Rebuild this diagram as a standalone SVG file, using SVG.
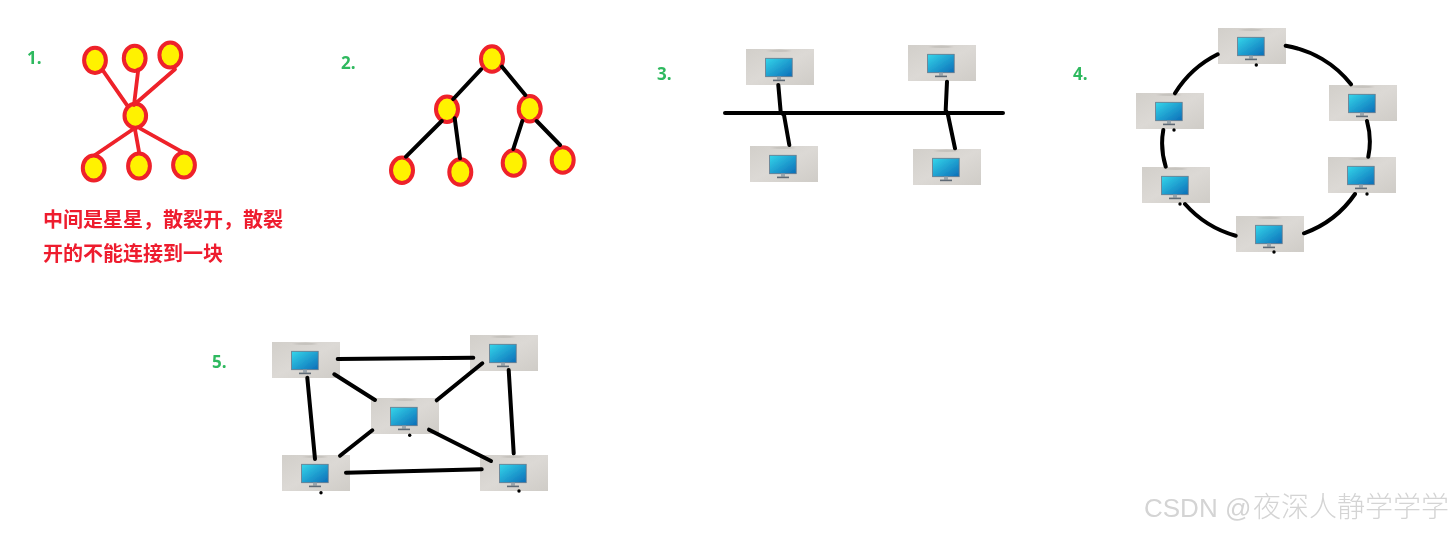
<svg xmlns="http://www.w3.org/2000/svg" width="1455" height="533" viewBox="0 0 1455 533">
<style>
.num{font-family:"Open Sans","Liberation Sans",sans-serif;font-weight:700;font-size:17px;fill:#2fb95e}
.red{font-family:"Noto Sans CJK SC",sans-serif;font-weight:700;font-size:20px;fill:#ee1c2e}
.wm{font-family:"Liberation Sans","Noto Sans CJK SC",sans-serif;font-size:26px;fill:#d4d4d4}
.wc{font-family:"Noto Sans CJK SC",sans-serif;font-weight:300;font-size:28px;fill:#d4d4d4}
.rl{stroke:#ee2029;stroke-width:3.8;fill:none;stroke-linecap:round}
.re{stroke:#ee2029;stroke-width:4;fill:#fff200}
.bl{stroke:#000;stroke-width:4;fill:none;stroke-linecap:round}
.dot{fill:#000}
</style>
<defs>
<linearGradient id="scr" x1="0" y1="0" x2="1" y2="1"><stop offset="0" stop-color="#35d6ea"/><stop offset="1" stop-color="#0b6db8"/></linearGradient>
<linearGradient id="bx" x1="0" y1="0" x2="1" y2="1"><stop offset="0" stop-color="#d2cfca"/><stop offset="0.5" stop-color="#dcd9d5"/><stop offset="1" stop-color="#cfccc7"/></linearGradient>
<filter id="soft" x="0" y="0" width="1" height="1" filterUnits="objectBoundingBox"><feGaussianBlur stdDeviation="0.45"/></filter>
<g id="pc">
<rect width="68" height="36" fill="url(#bx)"/>
<path d="M20 2 Q34 -1 46 2 Q34 4 20 2Z" fill="#c6c3be"/>
<rect x="19.6" y="9.3" width="26.6" height="18.4" fill="url(#scr)" stroke="#66788a" stroke-width="0.8"/>
<rect x="31" y="27.7" width="4" height="3" fill="#9aa5ad"/>
<rect x="27" y="30.6" width="12" height="1.6" fill="#5f6b75"/>
</g>
</defs>
<rect width="1455" height="533" fill="#fff"/>
<g filter="url(#soft)">
<g id="star-center"><ellipse class="re" cx="135.3" cy="115.7" rx="10.8" ry="12"/></g>
<g id="star-1"><ellipse class="re" cx="95" cy="60.3" rx="10.9" ry="12.6"/></g>
<g id="star-2"><ellipse class="re" cx="134.7" cy="58.3" rx="10.9" ry="12.6"/></g>
<g id="star-3"><ellipse class="re" cx="170.3" cy="55" rx="10.9" ry="12.6"/></g>
<g id="star-4"><ellipse class="re" cx="93.7" cy="168" rx="10.9" ry="12.6"/></g>
<g id="star-5"><ellipse class="re" cx="139" cy="166" rx="10.9" ry="12.6"/></g>
<g id="star-6"><ellipse class="re" cx="184" cy="165" rx="10.9" ry="12.6"/></g>
<g id="tree-1"><ellipse class="re" cx="492" cy="59" rx="11" ry="12.7"/></g>
<g id="tree-2"><ellipse class="re" cx="447" cy="109.3" rx="11" ry="12.7"/></g>
<g id="tree-3"><ellipse class="re" cx="529.7" cy="108.7" rx="11" ry="12.7"/></g>
<g id="tree-4"><ellipse class="re" cx="402" cy="170.3" rx="11" ry="12.7"/></g>
<g id="tree-5"><ellipse class="re" cx="460.3" cy="172" rx="11" ry="12.7"/></g>
<g id="tree-6"><ellipse class="re" cx="513.7" cy="163" rx="11" ry="12.7"/></g>
<g id="tree-7"><ellipse class="re" cx="562.7" cy="160" rx="11" ry="12.7"/></g>
<g id="bus-1"><use href="#pc" x="746" y="49"/></g>
<g id="bus-2"><use href="#pc" x="908" y="45"/></g>
<g id="bus-3"><use href="#pc" x="750" y="146"/></g>
<g id="bus-4"><use href="#pc" x="913" y="149"/></g>
<g id="ring-1"><use href="#pc" x="1218" y="28"/></g>
<g id="ring-2"><use href="#pc" x="1329" y="85"/></g>
<g id="ring-3"><use href="#pc" x="1328" y="157"/></g>
<g id="ring-4"><use href="#pc" x="1236" y="216"/></g>
<g id="ring-5"><use href="#pc" x="1142" y="167"/></g>
<g id="ring-6"><use href="#pc" x="1136" y="93"/></g>
<g id="mesh-1"><use href="#pc" x="272" y="342"/></g>
<g id="mesh-2"><use href="#pc" x="470" y="335"/></g>
<g id="mesh-3"><use href="#pc" x="371" y="398"/></g>
<g id="mesh-4"><use href="#pc" x="282" y="455"/></g>
<g id="mesh-5"><use href="#pc" x="480" y="455"/></g>
<g id="connectors">
<path class="rl" d="M103 70.7L128 106.7M138.3 69.3L134 105M175 69.3L135 104M133 129.3L95 155M135 129.3L139 151.7M140 128.3L181.7 151.7"/>
<path class="bl" d="M481 69.3L453.3 99M502 66.7L525.3 95M441.7 121L406 156.7M454.7 118.3L460 158.3M522.3 121L513.3 149M536.7 121L560 145"/>
<path class="bl" d="M725 113H1003M778.3 85L780.7 112L784 115L789.3 145M947 81.7L945.7 110L948 115L955 148.3"/>
<path class="bl" stroke-linecap="butt" d="M1285.7 45.7A105 105 0 0 1 1351 84.3M1367 121Q1372 139 1368.3 156.7M1355 194A105 105 0 0 1 1304 233.3M1235.7 235.7A105 105 0 0 1 1185 204M1165.7 166.7Q1160 148 1163.3 130M1175 93.3A105 105 0 0 1 1217.7 54.3"/>
<path class="bl" d="M337.7 359L473.3 357.7M334.3 374.3L375 400M482.3 363.3L436.7 400.3M307.3 377.7L315 459M508.7 370L513.7 453.3M372.3 430.3L340 455.7M429 429.7L491 461M346 472.7L481.7 469.3"/>
<circle class="dot" cx="1256.3" cy="65" r="1.7"/><circle class="dot" cx="1174" cy="130" r="1.7"/><circle class="dot" cx="1180" cy="204" r="1.7"/><circle class="dot" cx="1274" cy="252" r="1.7"/><circle class="dot" cx="1367" cy="194" r="1.7"/>
<circle class="dot" cx="409.7" cy="435.3" r="1.7"/><circle class="dot" cx="321" cy="492.7" r="1.7"/><circle class="dot" cx="519" cy="491" r="1.7"/>
</g>
<text class="num" x="27" y="64">1.</text>
<text class="num" x="341" y="69">2.</text>
<text class="num" x="657" y="80">3.</text>
<text class="num" x="1073" y="80">4.</text>
<text class="num" x="212" y="368">5.</text>
<text class="red" x="43" y="227">中间是星星&#xFF0C;散裂开&#xFF0C;散裂</text>
<text class="red" x="43" y="261">开的不能连接到一块</text>
<text x="1144" y="517" class="wm">CSDN @</text>
<text x="1253" y="517" class="wc">夜深人静学学学</text>
</g>
</svg>
